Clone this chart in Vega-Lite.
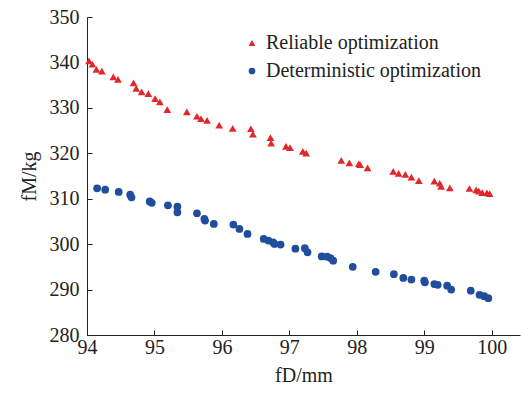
{
  "$schema": "https://vega.github.io/schema/vega-lite/v6.json",
  "width": 433,
  "height": 318,
  "autosize": "none",
  "padding": {"left": 87, "top": 17, "right": 1, "bottom": 59},
  "background": "white",
  "config": {
    "view": {"stroke": null},
    "font": "Liberation Serif"
  },
  "data": {
    "values": [
      {"s": "Reliable optimization", "x": 94.03, "y": 340.35},
      {"s": "Reliable optimization", "x": 94.08, "y": 339.6},
      {"s": "Reliable optimization", "x": 94.14, "y": 338.45},
      {"s": "Reliable optimization", "x": 94.22, "y": 338.1},
      {"s": "Reliable optimization", "x": 94.39, "y": 336.8},
      {"s": "Reliable optimization", "x": 94.46, "y": 336.25},
      {"s": "Reliable optimization", "x": 94.69, "y": 335.5},
      {"s": "Reliable optimization", "x": 94.73, "y": 334.3},
      {"s": "Reliable optimization", "x": 94.81, "y": 333.5},
      {"s": "Reliable optimization", "x": 94.91, "y": 333.15},
      {"s": "Reliable optimization", "x": 95.01, "y": 332.05},
      {"s": "Reliable optimization", "x": 95.08, "y": 331.3},
      {"s": "Reliable optimization", "x": 95.19, "y": 329.6},
      {"s": "Reliable optimization", "x": 95.48, "y": 329.1},
      {"s": "Reliable optimization", "x": 95.63, "y": 328.15},
      {"s": "Reliable optimization", "x": 95.69, "y": 327.6},
      {"s": "Reliable optimization", "x": 95.78, "y": 327.25},
      {"s": "Reliable optimization", "x": 95.96, "y": 326.2},
      {"s": "Reliable optimization", "x": 96.16, "y": 325.5},
      {"s": "Reliable optimization", "x": 96.43, "y": 325.4},
      {"s": "Reliable optimization", "x": 96.46, "y": 324.2},
      {"s": "Reliable optimization", "x": 96.72, "y": 323.45},
      {"s": "Reliable optimization", "x": 96.73, "y": 322.25},
      {"s": "Reliable optimization", "x": 96.95, "y": 321.5},
      {"s": "Reliable optimization", "x": 97.01, "y": 321.25},
      {"s": "Reliable optimization", "x": 97.2, "y": 320.4},
      {"s": "Reliable optimization", "x": 97.25, "y": 320.05},
      {"s": "Reliable optimization", "x": 97.77, "y": 318.45},
      {"s": "Reliable optimization", "x": 97.89, "y": 317.9},
      {"s": "Reliable optimization", "x": 98.03, "y": 317.7},
      {"s": "Reliable optimization", "x": 98.05, "y": 317.5},
      {"s": "Reliable optimization", "x": 98.16, "y": 316.8},
      {"s": "Reliable optimization", "x": 98.54, "y": 316.0},
      {"s": "Reliable optimization", "x": 98.62, "y": 315.6},
      {"s": "Reliable optimization", "x": 98.72, "y": 315.35},
      {"s": "Reliable optimization", "x": 98.81, "y": 314.75},
      {"s": "Reliable optimization", "x": 98.92, "y": 314.0},
      {"s": "Reliable optimization", "x": 99.15, "y": 313.85},
      {"s": "Reliable optimization", "x": 99.23, "y": 313.4},
      {"s": "Reliable optimization", "x": 99.25, "y": 312.7},
      {"s": "Reliable optimization", "x": 99.38, "y": 312.4},
      {"s": "Reliable optimization", "x": 99.67, "y": 312.25},
      {"s": "Reliable optimization", "x": 99.77, "y": 311.95},
      {"s": "Reliable optimization", "x": 99.81, "y": 311.65},
      {"s": "Reliable optimization", "x": 99.86, "y": 311.35},
      {"s": "Reliable optimization", "x": 99.93, "y": 311.3},
      {"s": "Reliable optimization", "x": 99.97, "y": 311.1},
      {"s": "Deterministic optimization", "x": 94.15, "y": 312.3},
      {"s": "Deterministic optimization", "x": 94.27, "y": 312.0},
      {"s": "Deterministic optimization", "x": 94.47, "y": 311.5},
      {"s": "Deterministic optimization", "x": 94.64, "y": 310.9},
      {"s": "Deterministic optimization", "x": 94.66, "y": 310.3},
      {"s": "Deterministic optimization", "x": 94.93, "y": 309.4},
      {"s": "Deterministic optimization", "x": 94.96, "y": 309.1},
      {"s": "Deterministic optimization", "x": 95.2, "y": 308.55},
      {"s": "Deterministic optimization", "x": 95.34, "y": 308.25},
      {"s": "Deterministic optimization", "x": 95.34, "y": 307.0},
      {"s": "Deterministic optimization", "x": 95.63, "y": 306.8},
      {"s": "Deterministic optimization", "x": 95.74, "y": 305.55},
      {"s": "Deterministic optimization", "x": 95.75, "y": 305.2},
      {"s": "Deterministic optimization", "x": 95.88, "y": 304.45},
      {"s": "Deterministic optimization", "x": 96.17, "y": 304.3},
      {"s": "Deterministic optimization", "x": 96.26, "y": 303.35},
      {"s": "Deterministic optimization", "x": 96.38, "y": 302.25},
      {"s": "Deterministic optimization", "x": 96.62, "y": 301.15},
      {"s": "Deterministic optimization", "x": 96.69, "y": 300.8},
      {"s": "Deterministic optimization", "x": 96.76, "y": 300.4},
      {"s": "Deterministic optimization", "x": 96.78, "y": 300.05},
      {"s": "Deterministic optimization", "x": 96.87, "y": 299.9},
      {"s": "Deterministic optimization", "x": 97.09, "y": 299.0},
      {"s": "Deterministic optimization", "x": 97.23, "y": 299.1},
      {"s": "Deterministic optimization", "x": 97.27, "y": 298.2},
      {"s": "Deterministic optimization", "x": 97.48, "y": 297.3},
      {"s": "Deterministic optimization", "x": 97.56, "y": 297.25},
      {"s": "Deterministic optimization", "x": 97.61, "y": 296.95},
      {"s": "Deterministic optimization", "x": 97.65, "y": 296.35},
      {"s": "Deterministic optimization", "x": 97.94, "y": 295.0},
      {"s": "Deterministic optimization", "x": 98.28, "y": 293.9},
      {"s": "Deterministic optimization", "x": 98.55, "y": 293.4},
      {"s": "Deterministic optimization", "x": 98.69, "y": 292.55},
      {"s": "Deterministic optimization", "x": 98.81, "y": 292.2},
      {"s": "Deterministic optimization", "x": 99.0, "y": 291.95},
      {"s": "Deterministic optimization", "x": 99.01, "y": 291.6},
      {"s": "Deterministic optimization", "x": 99.15, "y": 291.2},
      {"s": "Deterministic optimization", "x": 99.2, "y": 291.05},
      {"s": "Deterministic optimization", "x": 99.34, "y": 290.85},
      {"s": "Deterministic optimization", "x": 99.4, "y": 290.0},
      {"s": "Deterministic optimization", "x": 99.69, "y": 289.75},
      {"s": "Deterministic optimization", "x": 99.82, "y": 288.85},
      {"s": "Deterministic optimization", "x": 99.89, "y": 288.55},
      {"s": "Deterministic optimization", "x": 99.95, "y": 288.1}
    ]
  },
  "mark": {"type": "point", "filled": true, "opacity": 1, "size": 60},
  "encoding": {
    "x": {
      "field": "x", "type": "quantitative",
      "scale": {"domain": [94, 100.42], "nice": false, "zero": false},
      "axis": {
        "values": [94, 95, 96, 97, 98, 99, 100],
        "title": "fD/mm", "titleFontSize": 20, "titleFontWeight": "normal", "titleColor": "#222",
        "titlePadding": 8,
        "labelFontSize": 20, "labelColor": "#222", "labelPadding": 7,
        "tickSize": -5, "tickColor": "#222", "domainColor": "#222", "grid": false, "labelFlush": false
      }
    },
    "y": {
      "field": "y", "type": "quantitative",
      "scale": {"domain": [280, 350], "nice": false, "zero": false},
      "axis": {
        "values": [280, 290, 300, 310, 320, 330, 340, 350],
        "title": "fM/kg", "titleFontSize": 20, "titleFontWeight": "normal", "titleColor": "#222",
        "titlePadding": 10,
        "labelFontSize": 20, "labelColor": "#222", "labelPadding": 13,
        "tickSize": -5, "tickColor": "#222", "domainColor": "#222", "grid": false, "labelFlush": false
      }
    },
    "color": {
      "field": "s", "type": "nominal",
      "scale": {"domain": ["Reliable optimization", "Deterministic optimization"], "range": ["#e0282c", "#1f4f9c"]},
      "legend": {
        "orient": "none", "legendX": 155, "legendY": 16, "title": null, "labelLimit": 400,
        "labelFontSize": 20, "labelColor": "#222", "rowPadding": 8, "symbolSize": 45, "labelOffset": 4
      }
    },
    "shape": {
      "field": "s", "type": "nominal",
      "scale": {"domain": ["Reliable optimization", "Deterministic optimization"], "range": ["triangle-up", "circle"]},
      "legend": null
    }
  }
}
